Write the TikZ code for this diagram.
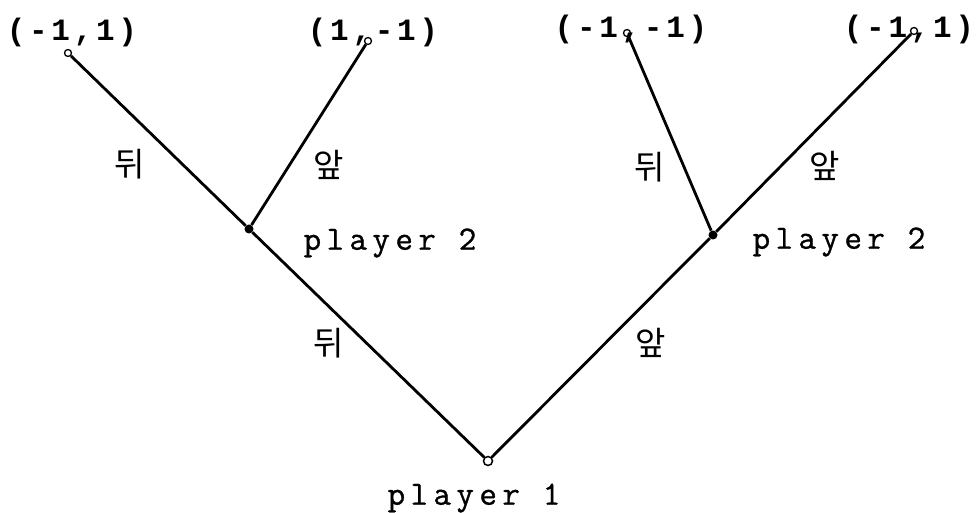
\documentclass[tikz,border=0pt]{standalone}
\usepackage{fontspec}
\newfontfamily\payofffont{Liberation Mono}[LetterSpace=12]
\newfontfamily\playerfont{Latin Modern Mono}[LetterSpace=16, FakeBold=1]
\newfontfamily\hangul{Noto Sans CJK KR}
\usetikzlibrary{positioning}

\begin{document}
\begin{tikzpicture}[
    x=1pt, y=-1pt,
    leaf/.style={circle, draw, fill=white, inner sep=0pt, minimum size=7pt, line width=1.3pt},
    decision/.style={circle, fill, inner sep=0pt, minimum size=9pt},
    start/.style={circle, draw, fill=white, inner sep=0pt, minimum size=9pt, line width=1.5pt},
    payoff/.style={inner sep=0pt, font=\payofffont\fontsize{31}{31}\selectfont\bfseries},
    who/.style={inner sep=0pt, font=\playerfont\fontsize{34}{34}\selectfont},
    move/.style={inner sep=0pt, font=\hangul\fontsize{33}{33}\selectfont},
    branch/.style={line width=2.8pt}
]
\useasboundingbox (0,0) rectangle (978,513);

% decision nodes
\node[start] (p1) at (488,461) {};
\node[decision] (p2l) at (249,229) {};
\node[decision] (p2r) at (713,235) {};

% terminal nodes
\node[leaf] (ll) at (68,53) {};
\node[leaf] (lr) at (368,41) {};
\node[leaf] (rl) at (627,33) {};
\node[leaf] (rr) at (914,31) {};

% payoffs
\node[payoff] (ull) at (72,32) {(-1,1)};
\node[payoff] (ulr) at (373,32) {(1,-1)};
\node[payoff] (url) at (631,29) {(-1,-1)};
\node[payoff] (urr) at (909,29) {(-1,1)};

% players
\node[who] (np1) at (474,498) {player 1};
\node[who] (np2l) at (390,243) {player 2};
\node[who] (np2r) at (839,242) {player 2};

% moves
\node[move] (m1) at (329,343) {뒤};
\node[move] (m2) at (651,343) {앞};
\node[move] (m3) at (130,164) {뒤};
\node[move] (m4) at (329,165) {앞};
\node[move] (m5) at (650,167) {뒤};
\node[move] (m6) at (825,166) {앞};

\draw[branch] (p1) -- (p2l);
\draw[branch] (p1) -- (p2r);
\draw[branch] (p2l) -- (ll);
\draw[branch] (p2l) -- (lr);
\draw[branch] (p2r) -- (rl);
\draw[branch] (p2r) -- (rr);
\end{tikzpicture}
\end{document}
